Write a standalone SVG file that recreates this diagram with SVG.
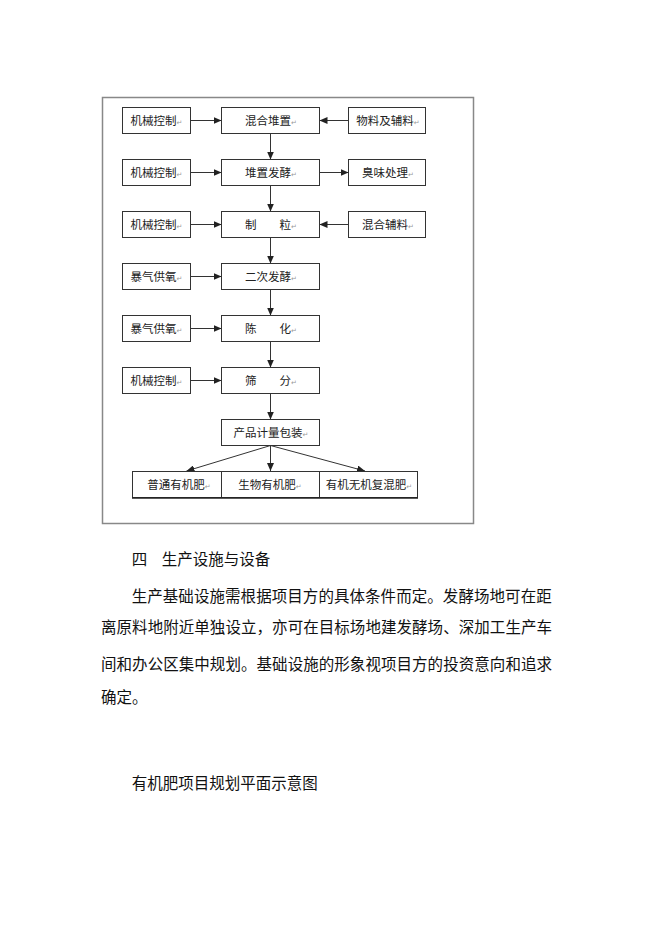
<svg xmlns="http://www.w3.org/2000/svg" width="662" height="936" viewBox="0 0 662 936">
<style>
.bx{fill:#fff;stroke:#333;stroke-width:1}
.t{font-family:"Noto Sans CJK SC","Noto Sans",sans-serif;font-size:11.5px;fill:#222;text-anchor:middle}
.r{font-family:"DejaVu Sans",sans-serif;font-size:7px;fill:#999}
.c{stroke:#333;stroke-width:1;fill:none;marker-end:url(#ah)}
.p{font-family:"Noto Sans CJK SC","Noto Sans",sans-serif;font-size:15.5px;fill:#111}
</style>
<defs>
<marker id="ah" markerUnits="userSpaceOnUse" markerWidth="8" markerHeight="7" refX="8" refY="3.5" orient="auto">
<path d="M0,0 L8,3.5 L0,7 z" fill="#222"/>
</marker>
</defs>
<rect width="662" height="936" fill="#fff"/>
<rect id="frame" x="102.5" y="97.5" width="371" height="426" fill="none" stroke="#888" stroke-width="1.5"/>

<g id="connectors">
<line class="c" x1="190.5" y1="120.5" x2="221.5" y2="120.5"/>
<line class="c" x1="348.5" y1="120.5" x2="319.5" y2="120.5"/>
<line class="c" x1="270.5" y1="133.5" x2="270.5" y2="159.5"/>
<line class="c" x1="190.5" y1="172.5" x2="221.5" y2="172.5"/>
<line class="c" x1="319.5" y1="172.5" x2="348.5" y2="172.5"/>
<line class="c" x1="270.5" y1="185.5" x2="270.5" y2="211.5"/>
<line class="c" x1="190.5" y1="224.5" x2="221.5" y2="224.5"/>
<line class="c" x1="348.5" y1="224.5" x2="319.5" y2="224.5"/>
<line class="c" x1="270.5" y1="237.5" x2="270.5" y2="263.5"/>
<line class="c" x1="190.5" y1="276.5" x2="221.5" y2="276.5"/>
<line class="c" x1="270.5" y1="289.5" x2="270.5" y2="315.5"/>
<line class="c" x1="190.5" y1="328.5" x2="221.5" y2="328.5"/>
<line class="c" x1="270.5" y1="341.5" x2="270.5" y2="367.5"/>
<line class="c" x1="190.5" y1="380.5" x2="221.5" y2="380.5"/>
<line class="c" x1="270.5" y1="393.5" x2="270.5" y2="419.5"/>
<line class="c" x1="270.5" y1="445.5" x2="186.5" y2="471"/>
<line class="c" x1="270.5" y1="445.5" x2="270.5" y2="471"/>
<line class="c" x1="270.5" y1="445.5" x2="365" y2="471"/>
</g>

<g id="n1"><rect class="bx" x="122.5" y="107.5" width="68" height="26"/><text class="t" x="156.5" y="124.5">机械控制<tspan class="r">↵</tspan></text></g>
<g id="n2"><rect class="bx" x="221.5" y="107.5" width="98" height="26"/><text class="t" x="271" y="124.5">混合堆置<tspan class="r">↵</tspan></text></g>
<g id="n3"><rect class="bx" x="348.5" y="107.5" width="77" height="26"/><text class="t" x="388" y="124.5">物料及辅料<tspan class="r">↵</tspan></text></g>

<g id="n4"><rect class="bx" x="122.5" y="159.5" width="68" height="26"/><text class="t" x="156.5" y="176.5">机械控制<tspan class="r">↵</tspan></text></g>
<g id="n5"><rect class="bx" x="221.5" y="159.5" width="98" height="26"/><text class="t" x="271" y="176.5">堆置发酵<tspan class="r">↵</tspan></text></g>
<g id="n6"><rect class="bx" x="348.5" y="159.5" width="77" height="26"/><text class="t" x="388" y="176.5">臭味处理<tspan class="r">↵</tspan></text></g>

<g id="n7"><rect class="bx" x="122.5" y="211.5" width="68" height="26"/><text class="t" x="156.5" y="228.5">机械控制<tspan class="r">↵</tspan></text></g>
<g id="n8"><rect class="bx" x="221.5" y="211.5" width="98" height="26"/><text class="t" x="271" y="228.5">制　　粒<tspan class="r">↵</tspan></text></g>
<g id="n9"><rect class="bx" x="348.5" y="211.5" width="77" height="26"/><text class="t" x="388" y="228.5">混合辅料<tspan class="r">↵</tspan></text></g>

<g id="n10"><rect class="bx" x="122.5" y="263.5" width="68" height="26"/><text class="t" x="156.5" y="280.5">暴气供氧<tspan class="r">↵</tspan></text></g>
<g id="n11"><rect class="bx" x="221.5" y="263.5" width="98" height="26"/><text class="t" x="271" y="280.5">二次发酵<tspan class="r">↵</tspan></text></g>

<g id="n12"><rect class="bx" x="122.5" y="315.5" width="68" height="26"/><text class="t" x="156.5" y="332.5">暴气供氧<tspan class="r">↵</tspan></text></g>
<g id="n13"><rect class="bx" x="221.5" y="315.5" width="98" height="26"/><text class="t" x="271" y="332.5">陈　　化<tspan class="r">↵</tspan></text></g>

<g id="n14"><rect class="bx" x="122.5" y="367.5" width="68" height="26"/><text class="t" x="156.5" y="384.5">机械控制<tspan class="r">↵</tspan></text></g>
<g id="n15"><rect class="bx" x="221.5" y="367.5" width="98" height="26"/><text class="t" x="271" y="384.5">筛　　分<tspan class="r">↵</tspan></text></g>

<g id="n16"><rect class="bx" x="221.5" y="419.5" width="98" height="26"/><text class="t" x="271" y="436.5">产品计量包装<tspan class="r">↵</tspan></text></g>

<g id="n17"><rect class="bx" x="132.5" y="471.5" width="89" height="26"/><text class="t" x="179" y="488.5">普通有机肥<tspan class="r">↵</tspan></text></g>
<g id="n18"><rect class="bx" x="221.5" y="471.5" width="98" height="26"/><text class="t" x="270" y="488.5">生物有机肥<tspan class="r">↵</tspan></text></g>
<g id="n19"><rect class="bx" x="319.5" y="471.5" width="98" height="26"/><text class="t" x="369" y="488.5">有机无机复混肥<tspan class="r">↵</tspan></text></g>
<line x1="132" y1="498" x2="418" y2="498" stroke="#222" stroke-width="1.5"/>

<g id="body">
<text class="p" x="131.7" y="565">四</text>
<text class="p" x="161.7" y="565">生产设施与设备</text>
<text class="p" x="131.7" y="602" textLength="420" lengthAdjust="spacing">生产基础设施需根据项目方的具体条件而定。发酵场地可在距</text>
<text class="p" x="101" y="632.5" textLength="451" lengthAdjust="spacing">离原料地附近单独设立，亦可在目标场地建发酵场、深加工生产车</text>
<text class="p" x="101" y="669.5" textLength="451" lengthAdjust="spacing">间和办公区集中规划。基础设施的形象视项目方的投资意向和追求</text>
<text class="p" x="101" y="703">确定。</text>
<text class="p" x="131.7" y="789">有机肥项目规划平面示意图</text>
</g>
</svg>
